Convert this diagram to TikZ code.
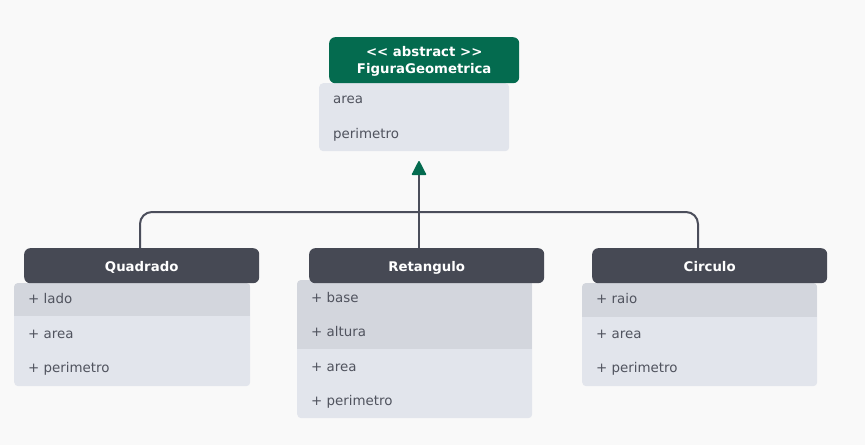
\documentclass[tikz,border=0pt]{standalone}
\usepackage{fontspec}
\newfontfamily\dv{DejaVu Sans}
\usetikzlibrary{arrows.meta}
\definecolor{bg}{HTML}{F9F9F9}
\definecolor{hdrdark}{HTML}{464954}
\definecolor{hdrgreen}{HTML}{046B4F}
\definecolor{bodylight}{HTML}{E2E5EC}
\definecolor{rowdark}{HTML}{D3D6DD}
\definecolor{txt}{HTML}{50535E}
\definecolor{conn}{HTML}{4B4E5B}
\tikzset{
  hdr/.style={fill=hdrdark, rounded corners=6pt, minimum width=235pt, minimum height=35pt,
    inner sep=0pt, anchor=north west},
  hdrtxt/.style={text=white, font=\dv\bfseries\fontsize{13.3}{16.5}\selectfont, inner sep=0pt, align=center},
  hdrone/.style={hdrtxt, anchor=base, align=none},
  bodybox/.style={fill=bodylight, rounded corners=4pt, inner sep=0pt, anchor=north west},
  row/.style={anchor=base west, text=txt, font=\dv\fontsize{13.4}{15}\selectfont, inner sep=0pt},
  connline/.style={draw=conn, line width=2pt},
}
\begin{document}
\begin{tikzpicture}[x=1pt,y=-1pt]
\fill[bg] (0,0) rectangle (865,445);
\useasboundingbox (0,0) rectangle (865,445);

% FiguraGeometrica
\node[bodybox, minimum width=190pt, minimum height=68pt] (fb) at (319,83) {};
\node[row] (f1) at (333,103) {area};
\node[row] (f2) at (333,138) {perimetro};
\node[hdr, fill=hdrgreen, minimum width=190pt, minimum height=46pt] (fh) at (329,37) {};
\node[hdrtxt] (fht) at ([yshift=-1pt]fh.center) {<\kern0pt< abstract >\kern0pt>\\FiguraGeometrica};

% Quadrado
\node[bodybox, minimum width=236pt, minimum height=103pt] (qb) at (14,283) {};
\begin{scope}
  \clip[rounded corners=4pt] (qb.north west) rectangle (qb.south east);
  \fill[rowdark] (qb.north west) rectangle ([yshift=-33pt]qb.north east);
\end{scope}
\node[row] (q1) at (28,303) {+ lado};
\node[row] (q2) at (28,338) {+ area};
\node[row] (q3) at (28,372) {+ perimetro};
\node[hdr] (qh) at (24,248) {};
\node[hdrone] (qht) at ([yshift=-5.5pt]qh.center) {Quadrado};

% Retangulo
\node[bodybox, minimum width=235pt, minimum height=138pt] (rb) at (297,280) {};
\begin{scope}
  \clip[rounded corners=4pt] (rb.north west) rectangle (rb.south east);
  \fill[rowdark] (rb.north west) rectangle ([yshift=-69pt]rb.north east);
\end{scope}
\node[row] (r1) at (311,302) {+ base};
\node[row] (r2) at (311,336) {+ altura};
\node[row] (r3) at (311,371) {+ area};
\node[row] (r4) at (311,405) {+ perimetro};
\node[hdr] (rh) at (309,248) {};
\node[hdrone] (rht) at ([yshift=-5.5pt]rh.center) {Retangulo};

% Circulo
\node[bodybox, minimum width=235pt, minimum height=103pt] (cb) at (582,283) {};
\begin{scope}
  \clip[rounded corners=4pt] (cb.north west) rectangle (cb.south east);
  \fill[rowdark] (cb.north west) rectangle ([yshift=-34pt]cb.north east);
\end{scope}
\node[row] (c1) at (596,303) {+ raio};
\node[row] (c2) at (596,338) {+ area};
\node[row] (c3) at (596,372) {+ perimetro};
\node[hdr] (ch) at (592,248) {};
\node[hdrone] (cht) at ([yshift=-5.5pt]ch.center) {Circulo};

% connectors
\coordinate (qt) at (140,248);
\coordinate (ct) at (698,248);
\coordinate (rt) at (419,248);
\coordinate (tip) at (419,161);
\draw[connline, rounded corners=12pt] (qt) -- (140,212) -- (698,212) -- (ct);
\draw[connline, -{Triangle[width=15pt, length=15pt, round, fill=hdrgreen, color=hdrgreen, line width=1.5pt]}] (rt) -- (tip);
\end{tikzpicture}
\end{document}
